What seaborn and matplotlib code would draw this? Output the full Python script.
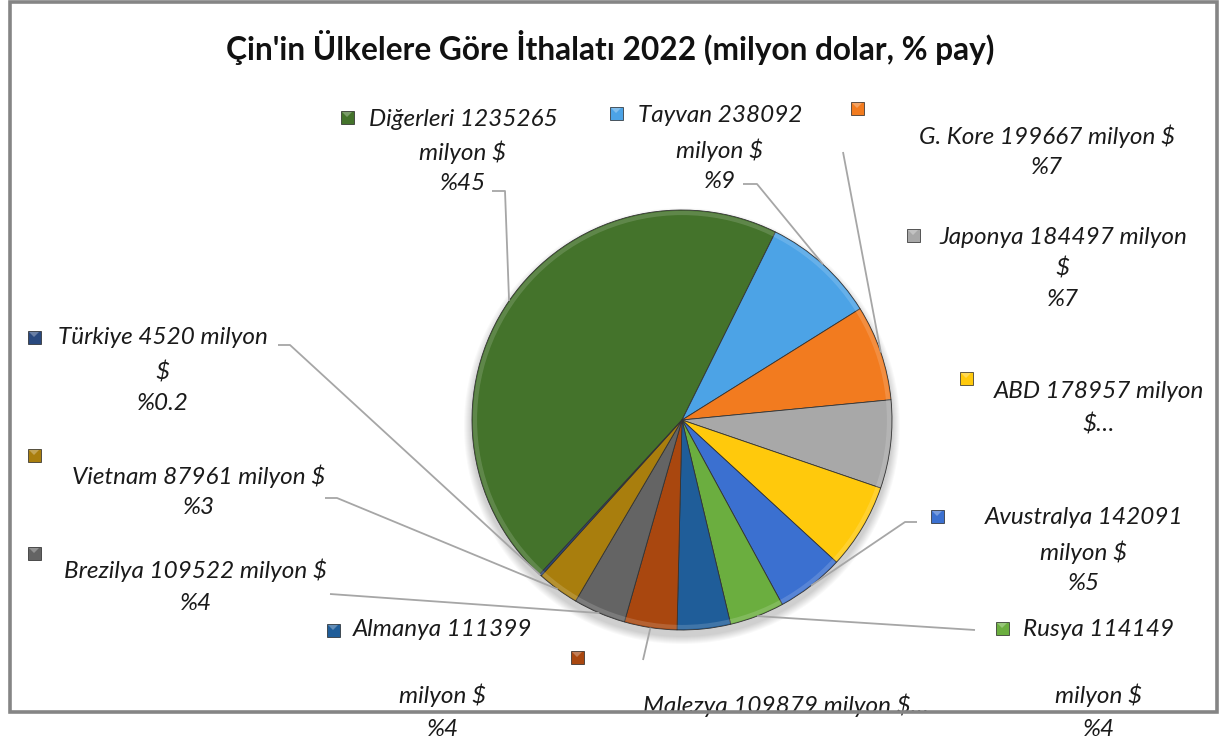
import matplotlib
matplotlib.use("Agg")
import matplotlib.pyplot as plt
import matplotlib.patches as mpatches
import numpy as np
import seaborn as sns

# === Data ===
countries = ["Diğerleri", "Tayvan", "G. Kore", "Japonya", "ABD", "Avustralya",
             "Rusya", "Almanya", "Malezya", "Brezilya", "Vietnam", "Türkiye"]
imports_musd = [1235265, 238092, 199667, 184497, 178957, 142091,
                114149, 111399, 109879, 109522, 87961, 4520]
share_labels = ["%45", "%9", "%7", "%7", "%5", "%5",
                "%4", "%4", "%4", "%4", "%3", "%0.2"]
colors = ["#44732B", "#4CA3E6", "#F27B1F", "#A8A8A8", "#FFC90C", "#3B70D0",
          "#6BAE3F", "#1F5D99", "#A9470F", "#646464", "#A97E0D", "#29497F"]

title = "Çin'in Ülkelere Göre İthalatı 2022 (milyon dolar, % pay)"

# label text as Excel wrapped it (one entry per line)
label_lines = [
    ["Diğerleri 1235265", "milyon $", "%45"],
    ["Tayvan 238092", "milyon $", "%9"],
    ["G. Kore 199667 milyon $", "%7"],
    ["Japonya 184497 milyon", "$", "%7"],
    ["ABD 178957 milyon", "$…"],
    ["Avustralya 142091", "milyon $", "%5"],
    ["Rusya 114149", "milyon $", "%4"],
    ["Almanya 111399", "milyon $", "%4"],
    ["Malezya 109879 milyon $…"],
    ["Brezilya 109522 milyon $", "%4"],
    ["Vietnam 87961 milyon $", "%3"],
    ["Türkiye 4520 milyon", "$", "%0.2"],
]

# === Layout (pixel coordinates, y from top) ===
W, H = 1220, 742
pie_center = (682, 420)
pie_radius = 210
text_x = [463, 720, 1047, 1063, 1099, 1084, 1099, 443, 786, 196, 199, 163]
text_y = [[120, 152, 184], [115, 150, 182], [136, 168], [237, 268, 300],
          [392, 425], [518, 552, 583], [629, 695, 730], [630, 695, 730],
          [705], [570, 603], [476, 508], [338, 372, 404]]
key_pos = [(347, 117), (616, 113), (857, 108), (913, 235), (966, 378), (937, 516),
           (1002, 628), (333, 630), (577, 657), (34, 553), (34, 455), (34, 337)]
# leader line start points on the label side (None = no leader line)
leaders = [[(492, 191), (505, 191)], [(743, 184), (757, 184)], [(843, 152)],
           None, None, [(917, 522), (905, 522)], [(975, 630)], None,
           [(643, 660)], [(330, 594)], [(325, 498), (337, 498)],
           [(278, 345), (290, 345)]]

sns.set_theme(style="white")
plt.rcParams["font.family"] = ["Lato", "DejaVu Sans"]

fig = plt.figure(figsize=(W / 100, H / 100), dpi=100)
ax = fig.add_axes([0, 0, 1, 1])

# === soft shadow under the pie ===
for i in range(8):
    ax.add_patch(mpatches.Circle((pie_center[0], pie_center[1] + 6), pie_radius + 8 - i,
                                 color="black", alpha=0.025, lw=0, zorder=1))

# === Pie (y axis inverted, so counterclock in data = clockwise on screen) ===
wedges, _ = ax.pie(imports_musd, colors=colors, startangle=132.7, counterclock=True,
                   center=pie_center, radius=pie_radius,
                   wedgeprops=dict(edgecolor="#333333", linewidth=0.6))
for w in wedges:
    w.set_zorder(2)

# bevel-like highlight ring
ax.add_patch(mpatches.Circle(pie_center, pie_radius - 3, fill=False,
                             edgecolor="white", alpha=0.15, lw=3, zorder=3))

ax.set_xlim(0, W)
ax.set_ylim(H, 0)
ax.set_aspect("equal")
ax.axis("off")

# === Labels, keys and leader lines ===
for i, w in enumerate(wedges):
    for line, y in zip(label_lines[i], text_y[i]):
        ax.text(text_x[i], y, line, ha="center", va="center", fontsize=17.5,
                fontstyle="italic", color="#1a1a1a", zorder=5)
    kx, ky = key_pos[i]
    ax.add_patch(mpatches.Rectangle((kx - 6.5, ky - 6.5), 13, 13, facecolor=colors[i],
                                    edgecolor="#222222", lw=0.5, zorder=5))
    ax.add_patch(mpatches.Polygon([(kx - 5, ky - 5), (kx + 5, ky - 5), (kx, ky)],
                                  closed=True, facecolor="white", alpha=0.3, lw=0, zorder=6))
    if leaders[i] is not None:
        mid = np.deg2rad((w.theta1 + w.theta2) / 2)
        anchor = (pie_center[0] + pie_radius * np.cos(mid),
                  pie_center[1] + pie_radius * np.sin(mid))
        pts = leaders[i] + [anchor]
        ax.plot([p[0] for p in pts], [p[1] for p in pts], color="#A6A6A6",
                lw=1.3, zorder=4, solid_capstyle="butt")

# === Title and chart border ===
ax.text(610, 47, title, ha="center", va="center", fontsize=22.8, fontweight="bold",
        color="#111111", zorder=5)
ax.add_patch(mpatches.Rectangle((9.5, 2), 1207, 710, fill=False, edgecolor="#858585",
                                lw=2.6, zorder=7))

fig.savefig("out.png", dpi=100)
